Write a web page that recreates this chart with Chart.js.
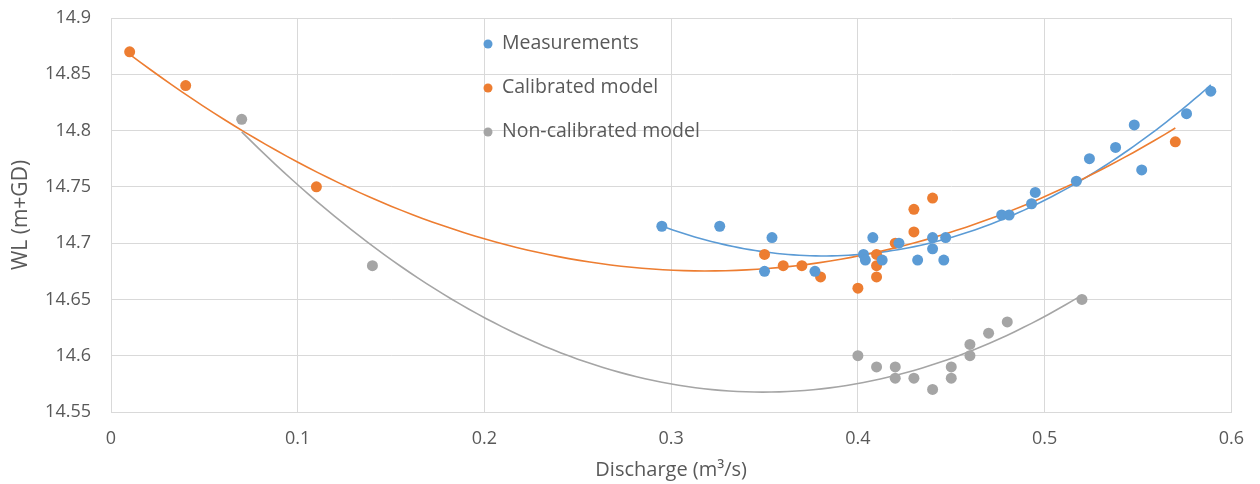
<!DOCTYPE html>
<html>
<head>
<meta charset="utf-8">
<script src="https://cdn.jsdelivr.net/npm/chart.js@4"></script>
<style>
  body { margin: 0; background: #fff; }
  #wrap { width: 1260px; height: 484px; }
</style>
</head>
<body>
<div id="wrap"><canvas id="rating"></canvas></div>
<script>
// discharge (m3/s) and water level (m+GD)
let measQ = [0.295, 0.326, 0.354, 0.350, 0.377, 0.403, 0.404, 0.408, 0.413, 0.422, 0.432, 0.440, 0.440, 0.446, 0.447,
  0.477, 0.481, 0.493, 0.495, 0.517, 0.524, 0.538, 0.548, 0.552, 0.576, 0.589];
let measWL = [14.715, 14.715, 14.705, 14.675, 14.675, 14.69, 14.685, 14.705, 14.685, 14.70, 14.685, 14.705, 14.695, 14.685, 14.705,
  14.725, 14.725, 14.735, 14.745, 14.755, 14.775, 14.785, 14.805, 14.765, 14.815, 14.835];

let calQ = [0.01, 0.04, 0.11, 0.35, 0.36, 0.37, 0.38, 0.40, 0.41, 0.41, 0.41, 0.42, 0.43, 0.43, 0.44, 0.57];
let calWL = [14.87, 14.84, 14.75, 14.69, 14.68, 14.68, 14.67, 14.66, 14.69, 14.68, 14.67, 14.70, 14.73, 14.71, 14.74, 14.79];

let nonQ = [0.07, 0.14, 0.40, 0.41, 0.42, 0.42, 0.43, 0.44, 0.45, 0.45, 0.46, 0.46, 0.47, 0.48, 0.52];
let nonWL = [14.81, 14.68, 14.60, 14.59, 14.59, 14.58, 14.58, 14.57, 14.59, 14.58, 14.61, 14.60, 14.62, 14.63, 14.65];

const seriesNames = ['Measurements', 'Calibrated model', 'Non-calibrated model'];
const colors = ['#5B9BD5', '#ED7D31', '#A5A5A5'];
const font = '"Open Sans", "Noto Sans", sans-serif';
const textColor = '#595959';

function pts(xs, ys) {
  return xs.map((x, i) => ({ x: x, y: ys[i] }));
}

// least squares 2nd order polynomial, like the excel trendline
function quadFit(xs, ys) {
  let n = xs.length, s = [0, 0, 0, 0, 0], t = [0, 0, 0];
  for (let i = 0; i < n; i++) {
    let p = 1;
    for (let k = 0; k < 5; k++) { s[k] += p; if (k < 3) t[k] += p * ys[i]; p *= xs[i]; }
  }
  let m = [[s[0], s[1], s[2], t[0]], [s[1], s[2], s[3], t[1]], [s[2], s[3], s[4], t[2]]];
  for (let c = 0; c < 3; c++) {
    for (let r = c + 1; r < 3; r++) {
      let f = m[r][c] / m[c][c];
      for (let k = c; k < 4; k++) m[r][k] -= f * m[c][k];
    }
  }
  let b = [0, 0, 0];
  for (let r = 2; r >= 0; r--) {
    let v = m[r][3];
    for (let k = r + 1; k < 3; k++) v -= m[r][k] * b[k];
    b[r] = v / m[r][r];
  }
  return b;
}

const trendPlugin = {
  id: 'trend',
  beforeDatasetsDraw(chart) {
    const c = chart.ctx, xs = chart.scales.x, ys = chart.scales.y;
    chart.data.datasets.forEach((ds) => {
      let qs = ds.data.map(p => p.x), ws = ds.data.map(p => p.y);
      let b = quadFit(qs, ws);
      let lo = Math.min(...qs), hi = Math.max(...qs);
      c.save();
      c.strokeStyle = ds.borderColor;
      c.lineWidth = 1.6;
      c.beginPath();
      for (let i = 0; i <= 100; i++) {
        let q = lo + (hi - lo) * i / 100;
        let w = b[0] + b[1] * q + b[2] * q * q;
        let px = xs.getPixelForValue(q), py = ys.getPixelForValue(w);
        if (i === 0) c.moveTo(px, py); else c.lineTo(px, py);
      }
      c.stroke();
      c.restore();
    });
  }
};

const legendPlugin = {
  id: 'innerLegend',
  afterDraw(chart) {
    const c = chart.ctx;
    c.save();
    c.font = '19.5px ' + font;
    c.textBaseline = 'middle';
    seriesNames.forEach((name, i) => {
      let y = 43 + i * 44;
      c.fillStyle = colors[i];
      c.beginPath();
      c.arc(488, y + 1, 4.5, 0, Math.PI * 2);
      c.fill();
      c.fillStyle = textColor;
      c.fillText(name, 502, y);
    });
    c.restore();
  }
};

function fmt(v) { return String(parseFloat(v.toFixed(2))); }

new Chart(document.getElementById('rating'), {
  type: 'scatter',
  data: {
    datasets: [
      { label: seriesNames[0], data: pts(measQ, measWL), backgroundColor: colors[0], borderColor: colors[0] },
      { label: seriesNames[1], data: pts(calQ, calWL), backgroundColor: colors[1], borderColor: colors[1] },
      { label: seriesNames[2], data: pts(nonQ, nonWL), backgroundColor: colors[2], borderColor: colors[2] },
    ],
  },
  options: {
    responsive: true,
    maintainAspectRatio: false,
    animation: false,
    layout: { padding: { left: 0, right: 27, top: 18, bottom: 0 } },
    elements: { point: { radius: 5.5, borderWidth: 0, hoverRadius: 6 } },
    plugins: { legend: { display: false }, tooltip: { enabled: false } },
    scales: {
      x: {
        type: 'linear',
        min: 0, max: 0.6,
        ticks: { stepSize: 0.1, color: textColor, font: { family: font, size: 18 }, padding: 16, callback: fmt },
        grid: { color: '#d9d9d9', drawTicks: false },
        border: { color: '#d9d9d9' },
        title: { display: true, text: 'Discharge (m³/s)', color: textColor, font: { family: font, size: 20 }, padding: { top: 0, bottom: 2 } },
        afterFit(s) { s.height = 72; },
      },
      y: {
        min: 14.55, max: 14.9,
        ticks: { stepSize: 0.05, color: textColor, font: { family: font, size: 18 }, padding: 20, callback: fmt },
        grid: { color: '#d9d9d9', drawTicks: false },
        border: { color: '#d9d9d9' },
        title: { display: true, text: 'WL (m+GD)', color: textColor, font: { family: font, size: 21 }, padding: { top: 8, bottom: 0 } },
        afterFit(s) { s.width = 111; s.paddingTop = 0; s.paddingBottom = 0; },
      },
    },
  },
  plugins: [trendPlugin, legendPlugin],
});
</script>
</body>
</html>
